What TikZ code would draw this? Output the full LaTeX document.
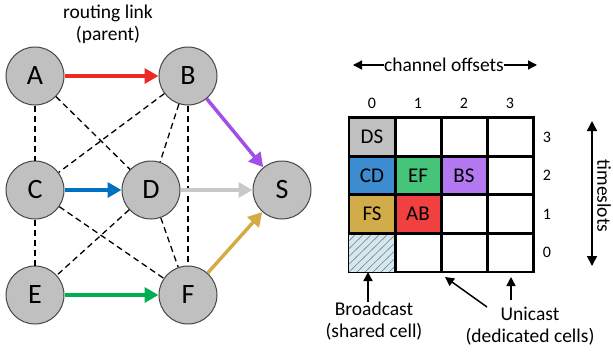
\documentclass[tikz,border=0pt]{standalone}
\usepackage{fontspec}
\setmainfont{Carlito}
\usetikzlibrary{arrows.meta}
\definecolor{nodegray}{RGB}{192,192,192}
\definecolor{nodeedge}{RGB}{70,70,70}
\definecolor{cred}{RGB}{237,41,36}
\definecolor{cblue}{RGB}{0,112,192}
\definecolor{cgrey}{RGB}{200,200,200}
\definecolor{cgreen}{RGB}{0,176,80}
\definecolor{cpurple}{RGB}{160,80,230}
\definecolor{cgold}{RGB}{212,172,70}
\definecolor{fDS}{RGB}{192,192,192}
\definecolor{fCD}{RGB}{62,140,208}
\definecolor{fEF}{RGB}{70,196,122}
\definecolor{fBS}{RGB}{180,120,240}
\definecolor{fFS}{RGB}{210,172,72}
\definecolor{fAB}{RGB}{240,64,64}
\definecolor{fhatch}{RGB}{212,232,240}
\tikzset{
  netnode/.style={circle,draw=nodeedge,line width=1pt,fill=nodegray,minimum size=58pt,inner sep=0pt,font=\fontsize{28}{28}\selectfont},
  dlink/.style={line width=1.3pt,dash pattern=on 6pt off 4pt},
  plink/.style={line width=3.5pt,-{Triangle[length=14pt,width=15pt]}},
  cell/.style={draw=black,line width=1.5pt,minimum width=46pt,minimum height=38.5pt,inner sep=0pt,font=\fontsize{21}{21}\selectfont},
  lbl/.style={font=\fontsize{19.5}{22}\selectfont,align=center,inner sep=0pt},
  numl/.style={font=\fontsize{16}{16}\selectfont,inner sep=0pt},
  blarrow/.style={line width=1.5pt,-{Triangle[length=9pt,width=9pt]}}
}
\begin{document}
\begin{tikzpicture}[x=1pt,y=-1pt]
\useasboundingbox (0,0) rectangle (613,354);
% network nodes
\node[netnode] (A) at (35,76) {A};
\node[netnode] (B) at (188,76) {B};
\node[netnode] (C) at (35,190) {C};
\node[netnode] (D) at (151,190) {D};
\node[netnode] (S) at (282,190) {S};
\node[netnode] (E) at (35,295) {E};
\node[netnode] (F) at (188,295) {F};
\node[lbl] (rl) at (108,24) {routing link\\(parent)};
% dashed links
\draw[dlink] (A) -- (C);
\draw[dlink] (A) -- (D);
\draw[dlink] (B) -- (C);
\draw[dlink] (B) -- (D);
\draw[dlink] (B) -- (F);
\draw[dlink] (C) -- (E);
\draw[dlink] (C) -- (F);
\draw[dlink] (D) -- (E);
\draw[dlink] (D) -- (F);
% parent links
\draw[plink,cred] (A) -- (B);
\draw[plink,cpurple] (B) -- (S);
\draw[plink,cblue] (C) -- (D);
\draw[plink,cgrey] (D) -- (S);
\draw[plink,cgreen] (E) -- (F);
\draw[plink,cgold] (F) -- (S);
% grid
\foreach \c in {0,...,3}{
  \foreach \r in {0,...,3}{
    \node[cell] (c\c r\r) at (372+46*\c,252.5-38.5*\r) {};
  }
}
\fill[fhatch] (c0r0.north west) rectangle (c0r0.south east);
\begin{scope}
\clip (c0r0.north west) rectangle (c0r0.south east);
\foreach \k in {-40,-32,...,48}{
  \draw[gray,line width=0.6pt] (349+\k,272) -- (349+\k+40,233);
}
\end{scope}
\node[cell,fill=fDS] (DS) at (c0r3) {DS};
\node[cell,fill=fCD] (CD) at (c0r2) {CD};
\node[cell,fill=fEF] (EF) at (c1r2) {EF};
\node[cell,fill=fBS] (BS) at (c2r2) {BS};
\node[cell,fill=fFS] (FS) at (c0r1) {FS};
\node[cell,fill=fAB] (AB) at (c1r1) {AB};
\foreach \c in {0,...,3}{
  \draw[line width=1.5pt] (c\c r0.south west) rectangle (c\c r3.north east);
}
\foreach \r in {0,...,3}{
  \draw[line width=1.5pt] (c0r\r.south west) rectangle (c3r\r.north east);
}
% column labels
\foreach \c in {0,...,3}{
  \node[numl] (col\c) at (372+46*\c,103) {\c};
}
\foreach \r in {0,...,3}{
  \node[numl] (row\r) at (547,252.5-38.5*\r) {\r};
}
% channel offsets
\node[lbl] (co) at (444,65) {channel offsets};
\coordinate (coL) at (353,65);
\coordinate (coR) at (537,65);
\draw[line width=1.3pt,-{Triangle[length=9pt,width=9pt]}] (co.west) -- (coL);
\draw[line width=1.3pt,-{Triangle[length=9pt,width=9pt]}] (co.east) -- (coR);
% timeslots
\coordinate (tsT) at (592,121);
\coordinate (tsB) at (592,266);
\draw[line width=1.5pt,{Triangle[length=10pt,width=10pt]}-{Triangle[length=10pt,width=10pt]}] (tsT) -- (tsB);
\node[lbl,rotate=-90] (ts) at (604,196) {timeslots};
% bottom labels
\node[lbl] (bc) at (374,321) {Broadcast\\(shared cell)};
\node[lbl] (uc) at (530,326) {Unicast\\(dedicated cells)};
\coordinate (bcT) at (368,272);
\draw[blarrow] (bc.north -| bcT) -- (bcT);
\coordinate (uc1T) at (445,277);
\coordinate (uc1S) at (487,307);
\draw[blarrow] (uc1S) -- (uc1T);
\coordinate (uc2T) at (511,277);
\coordinate (uc2S) at (511,300);
\draw[blarrow] (uc2S) -- (uc2T);
\end{tikzpicture}
\end{document}
